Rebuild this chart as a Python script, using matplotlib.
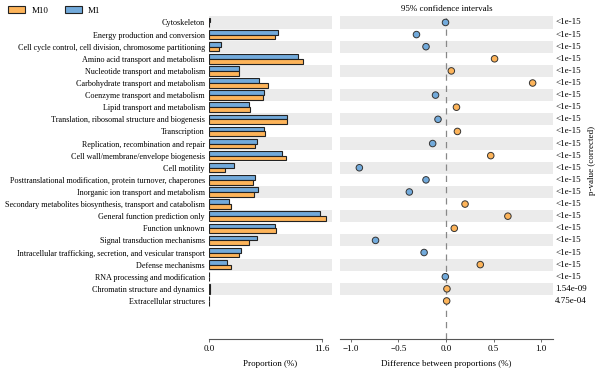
import matplotlib
matplotlib.use("Agg")
import matplotlib.pyplot as plt
from matplotlib.patches import Patch
import numpy as np

plt.rcParams['font.family'] = ['Liberation Serif', 'DejaVu Serif']

categories = [
    "Cytoskeleton",
    "Energy production and conversion",
    "Cell cycle control, cell division, chromosome partitioning",
    "Amino acid transport and metabolism",
    "Nucleotide transport and metabolism",
    "Carbohydrate transport and metabolism",
    "Coenzyme transport and metabolism",
    "Lipid transport and metabolism",
    "Translation, ribosomal structure and biogenesis",
    "Transcription",
    "Replication, recombination and repair",
    "Cell wall/membrane/envelope biogenesis",
    "Cell motility",
    "Posttranslational modification, protein turnover, chaperones",
    "Inorganic ion transport and metabolism",
    "Secondary metabolites biosynthesis, transport and catabolism",
    "General function prediction only",
    "Function unknown",
    "Signal transduction mechanisms",
    "Intracellular trafficking, secretion, and vesicular transport",
    "Defense mechanisms",
    "RNA processing and modification",
    "Chromatin structure and dynamics",
    "Extracellular structures",
]
m1 = [0.06, 7.08, 1.23, 9.17, 3.11, 5.13, 5.61, 4.07, 8.04, 5.68, 4.89, 7.46, 2.60,
      4.76, 5.06, 2.05, 11.36, 6.81, 4.93, 3.29, 1.85, 0.03, 0.06, 0.02]
m10 = [0.05, 6.77, 1.06, 9.68, 3.11, 6.02, 5.51, 4.21, 7.97, 5.78, 4.76, 7.94, 1.68,
       4.48, 4.65, 2.26, 12.05, 6.88, 4.14, 3.05, 2.23, 0.02, 0.07, 0.03]
diff = [-0.005, -0.31, -0.21, 0.51, 0.056, 0.91, -0.11, 0.11, -0.084, 0.12, -0.14, 0.47,
        -0.91, -0.21, -0.385, 0.20, 0.65, 0.087, -0.74, -0.23, 0.36, -0.007, 0.01, 0.007]
pvals = ["<1e-15"] * 22 + ["1.54e-09", "4.75e-04"]

c_m10 = '#FDB45A'
c_m1 = '#72AADB'
band = '#EBEBEB'

n = len(categories)
fig = plt.figure(figsize=(6.0, 3.68), dpi=100)
bottom = 0.0788
top = 0.9554
axL = fig.add_axes([0.3483, bottom, 0.205, top - bottom])
axR = fig.add_axes([0.5667, bottom, 0.355, top - bottom])

y = np.arange(n)
row_px = (301 - 23) / (n - 1)
ybot = (n - 1) + (339 - 301) / row_px
for ax in (axL, axR):
    ax.set_ylim(ybot, -0.5)
    for i in range(0, n, 2):
        ax.axhspan(i - 0.5, i + 0.5, color=band, lw=0, zorder=0)
    for s in ('top', 'right', 'left'):
        ax.spines[s].set_visible(False)
    ax.spines['bottom'].set_linewidth(0.8)
    ax.spines['bottom'].set_color('#555555')
    ax.tick_params(axis='y', length=0)
    ax.tick_params(axis='x', labelsize=6.5, length=2.5, width=0.6, color='#555555', pad=2)

h = 0.39
axL.barh(y - h / 2, m1, height=h, color=c_m1, edgecolor='#222222', lw=0.8, zorder=2)
axL.barh(y + h / 2, m10, height=h, color=c_m10, edgecolor='#222222', lw=0.8, zorder=2)
axL.set_xlim(0, 12.63)
axL.spines['bottom'].set_bounds(0, 11.6)
axL.set_xticks([0, 11.6])
axL.set_xticklabels(["0.0", "11.6"])
axL.set_yticks(y)
axL.set_yticklabels(categories, fontsize=5.9)
axL.tick_params(axis='y', pad=3)
axL.set_xlabel("Proportion (%)", fontsize=6.5, labelpad=5)

axR.set_xlim(-1.113, 1.124)
axR.axvline(0, color='#888888', lw=0.9, ls=(0, (5, 4)), zorder=1)
cols = [c_m10 if d > 0 else c_m1 for d in diff]
axR.scatter(diff, y, s=22, c=cols, edgecolors='#333333', linewidths=0.7, zorder=3)
axR.set_yticks([])
axR.set_xticks([-1.0, -0.5, 0.0, 0.5, 1.0])
axR.set_xticklabels(["\u22121.0", "\u22120.5", "0.0", "0.5", "1.0"])
axR.set_xlabel("Difference between proportions (%)", fontsize=6.5, labelpad=5)
axR.set_title("95% confidence intervals", fontsize=6.5, pad=4)

for i, p in enumerate(pvals):
    axR.text(1.01, i, p, transform=axR.get_yaxis_transform(), fontsize=6.5,
             va='center', ha='left')
fig.text(0.987, 0.565, "p-value (corrected)", rotation=90, fontsize=6.5,
         va='center', ha='center')

handles = [Patch(facecolor=c_m10, edgecolor='#222222', lw=0.8, label='M10'),
           Patch(facecolor=c_m1, edgecolor='#222222', lw=0.8, label='M1')]
fig.legend(handles=handles, loc='upper left', bbox_to_anchor=(0.0, 1.005), ncol=2,
           frameon=False, fontsize=6.5, handlelength=1.9, handleheight=0.8,
           columnspacing=1.8, handletextpad=0.7)

fig.savefig("out.png", dpi=100)
